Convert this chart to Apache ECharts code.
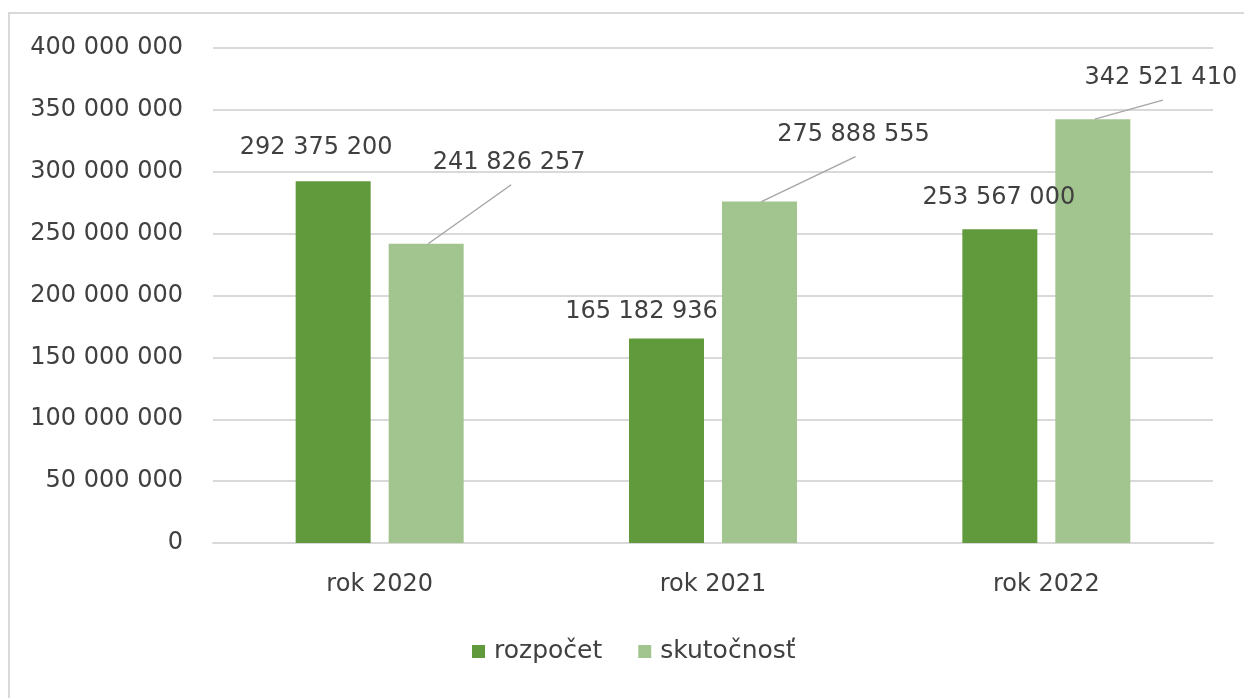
<!DOCTYPE html>
<html>
<head>
<meta charset="utf-8">
<script src="https://cdn.jsdelivr.net/npm/echarts@6/dist/echarts.min.js"></script>
<style>
  html, body { margin: 0; padding: 0; background: #fff; }
  #main { width: 1244px; height: 698px; }
</style>
</head>
<body>
<div id="main"></div>
<script>
const categories = ['rok 2020', 'rok 2021', 'rok 2022'];
const seriesNames = ['rozpočet', 'skutočnosť'];
const rozpocet = [292375200, 165182936, 253567000];
const skutocnost = [241826257, 275888555, 342521410];

// label offsets from the default 'top' position (layout only)
const labelShift = [
  [[-17, -16], [-25, -10], [-1, -14]],
  [[83, -64], [94, -50], [68, -24]]
];

const BAR_W = 0.225;   // bar width as share of the category band
const BAR_GAP = 0.24;  // gap as share of the bar width

function fmt(v) {
  return String(v).replace(/\B(?=(\d{3})+(?!\d))/g, ' ');
}

const myChart = echarts.init(document.getElementById('main'));
const font = 'DejaVu Sans';
const textColor = '#404040';

function layoutFor(s) {
  return function (p) {
    const d = labelShift[s][p.dataIndex];
    return { dx: d[0], dy: d[1] };
  };
}

// leader lines of the second series: from the bar top to just below its label
function leaderLine(params, api) {
  const i = api.value(0);
  const top = api.coord([i, api.value(1)]);
  const band = api.size([1, 0])[0];
  const x0 = top[0] + band * BAR_W * (1 + BAR_GAP) / 2 + 2;
  const y0 = top[1];
  const d = labelShift[1][i];
  return {
    type: 'line',
    shape: { x1: x0, y1: y0, x2: x0 + d[0], y2: y0 + d[1] + 5 },
    style: { stroke: '#a6a6a6', lineWidth: 1.5 },
    silent: true
  };
}

const option = {
  animation: false,
  textStyle: { fontFamily: font },
  graphic: [{
    type: 'rect',
    shape: { x: 9, y: 13, width: 1300, height: 720 },
    style: { fill: 'none', stroke: '#d9d9d9', lineWidth: 2 },
    silent: true
  }],
  grid: { left: 213, right: 31, top: 48, bottom: 155 },
  legend: {
    data: seriesNames,
    top: 634,
    left: 467,
    icon: 'rect',
    itemWidth: 13,
    itemHeight: 13,
    itemGap: 36,
    textStyle: { color: textColor, fontSize: 25, fontFamily: font, padding: [0, 0, 0, 4] }
  },
  xAxis: {
    type: 'category',
    data: categories,
    axisLine: { lineStyle: { color: '#d9d9d9', width: 2 } },
    axisTick: { show: false },
    axisLabel: { color: textColor, fontSize: 24, margin: 30, fontFamily: font }
  },
  yAxis: {
    type: 'value',
    min: 0,
    max: 400000000,
    interval: 50000000,
    axisLine: { show: false },
    axisTick: { show: false },
    splitLine: { lineStyle: { color: '#d9d9d9', width: 2 } },
    axisLabel: {
      color: textColor, fontSize: 24, margin: 30, fontFamily: font,
      formatter: fmt
    }
  },
  series: [
    {
      name: seriesNames[0],
      type: 'bar',
      data: rozpocet,
      barWidth: (BAR_W * 100) + '%',
      barGap: (BAR_GAP * 100) + '%',
      itemStyle: { color: '#619a3c' },
      label: {
        show: true, position: 'top', color: textColor, fontSize: 24, fontFamily: font,
        formatter: p => fmt(p.value)
      },
      labelLayout: layoutFor(0)
    },
    {
      name: seriesNames[1],
      type: 'bar',
      data: skutocnost,
      barWidth: (BAR_W * 100) + '%',
      itemStyle: { color: '#a2c48e' },
      label: {
        show: true, position: 'top', color: textColor, fontSize: 24, fontFamily: font,
        formatter: p => fmt(p.value)
      },
      labelLayout: layoutFor(1)
    },
    {
      name: 'leader',
      type: 'custom',
      renderItem: leaderLine,
      data: skutocnost.map((v, i) => [i, v]),
      encode: { x: 0, y: 1 },
      z: 5,
      silent: true,
      tooltip: { show: false }
    }
  ]
};
myChart.setOption(option);
</script>
</body>
</html>
